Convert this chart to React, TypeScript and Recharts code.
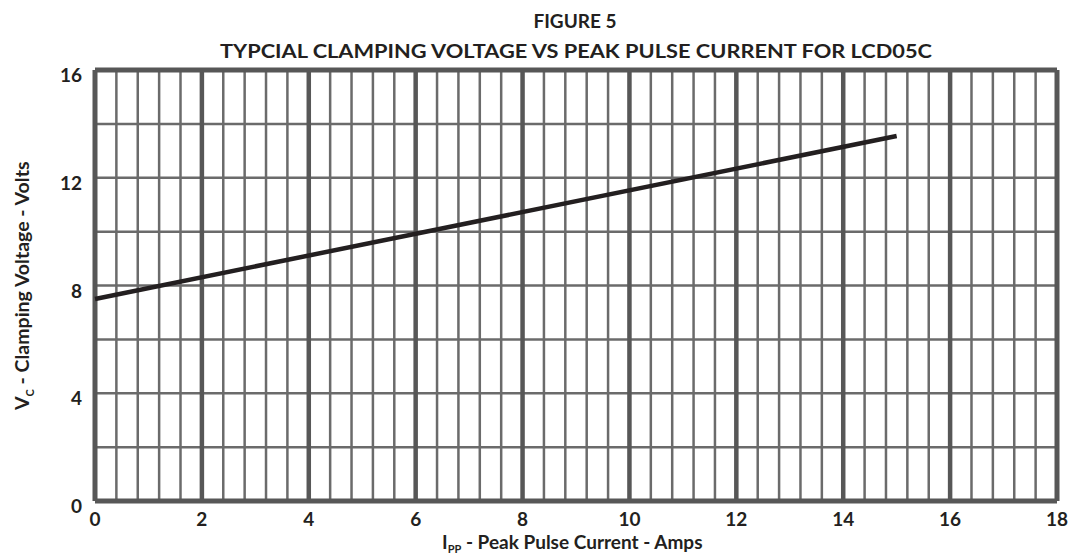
import { LineChart, Line, XAxis, YAxis, ReferenceLine } from 'recharts'

const CURRENT_AMPS = [0, 15]
const CLAMP_VOLTS = [7.5, 13.55]
const X_TICKS = [0, 2, 4, 6, 8, 10, 12, 14, 16, 18]
const Y_TICKS = [0, 4, 8, 12, 16]
const H_GRID = [2, 4, 6, 8, 10, 12, 14]
const X_MINOR_STEP = 0.4

const FONT = 'Lato, "Open Sans", sans-serif'
const INK = '#231f20'
const GRID = '#6b6b6b'
const FRAME = '#575757'

const W = 1073
const H = 556

const data = CURRENT_AMPS.map((x, i) => ({ x, v: CLAMP_VOLTS[i] }))

// minor verticals every 0.4 A, majors every 2 A
const minorX: number[] = []
for (let i = 1; i < 45; i++) {
  const v = Math.round(i * X_MINOR_STEP * 10) / 10
  if (v % 2 !== 0) minorX.push(v)
}
const majorX = X_TICKS.slice(1, -1)

function XTick(props: any) {
  const { x, payload } = props
  return (
    <text x={x} y={526} textAnchor="middle" fontFamily={FONT} fontWeight={700} fontSize={19} fill={INK}>
      {payload.value}
    </text>
  )
}

function YTick(props: any) {
  const { y, payload } = props
  return (
    <text x={82} y={y + 12} textAnchor="end" fontFamily={FONT} fontWeight={700} fontSize={19} fill={INK}>
      {payload.value}
    </text>
  )
}

export default function App() {
  return (
    <div style={{ position: 'absolute', left: 0, top: 0, width: W, height: H, background: '#fff' }}>
      <LineChart width={W} height={H} data={data} margin={{ top: 70, right: 16, bottom: 0, left: 0 }}>
        <XAxis
          dataKey="x"
          type="number"
          domain={[0, 18]}
          ticks={X_TICKS}
          interval={0}
          height={55}
          axisLine={false}
          tickLine={false}
          tick={XTick}
        />
        <YAxis
          type="number"
          domain={[0, 16]}
          ticks={Y_TICKS}
          interval={0}
          width={95}
          axisLine={false}
          tickLine={false}
          tick={YTick}
        />
        {H_GRID.map((v) => (
          <ReferenceLine key={'h' + v} y={v} stroke={GRID} strokeWidth={2.5} />
        ))}
        {minorX.map((v) => (
          <ReferenceLine key={'m' + v} x={v} stroke={GRID} strokeWidth={2.5} />
        ))}
        {majorX.map((v) => (
          <ReferenceLine key={'M' + v} x={v} stroke={FRAME} strokeWidth={4.5} />
        ))}
        <ReferenceLine x={0} stroke={FRAME} strokeWidth={5} />
        <ReferenceLine x={18} stroke={FRAME} strokeWidth={5} />
        <ReferenceLine y={0} stroke={FRAME} strokeWidth={5} />
        <ReferenceLine y={16} stroke={FRAME} strokeWidth={5} />
        <Line
          dataKey="v"
          stroke={INK}
          strokeWidth={4.5}
          dot={false}
          activeDot={false}
          isAnimationActive={false}
        />
      </LineChart>
      <svg width={W} height={H} style={{ position: 'absolute', left: 0, top: 0, pointerEvents: 'none' }}>
        <g fontFamily={FONT} fontWeight={700} fill={INK}>
          <text x={575} y={28} textAnchor="middle" fontSize={19}>FIGURE 5</text>
          <text x={576} y={58} textAnchor="middle" fontSize={19} textLength={712} lengthAdjust="spacingAndGlyphs">
            TYPCIAL CLAMPING VOLTAGE VS PEAK PULSE CURRENT FOR LCD05C
          </text>
          <text x={442} y={549} fontSize={19}>
            I<tspan fontSize={11} dy={4}>PP</tspan>
            <tspan dy={-4}> - Peak Pulse Current - Amps</tspan>
          </text>
          <text transform="translate(29,410) rotate(-90)" fontSize={19.5}>
            V<tspan fontSize={11} dy={5}>C</tspan>
            <tspan dy={-5}> - Clamping Voltage - Volts</tspan>
          </text>
        </g>
      </svg>
    </div>
  )
}
